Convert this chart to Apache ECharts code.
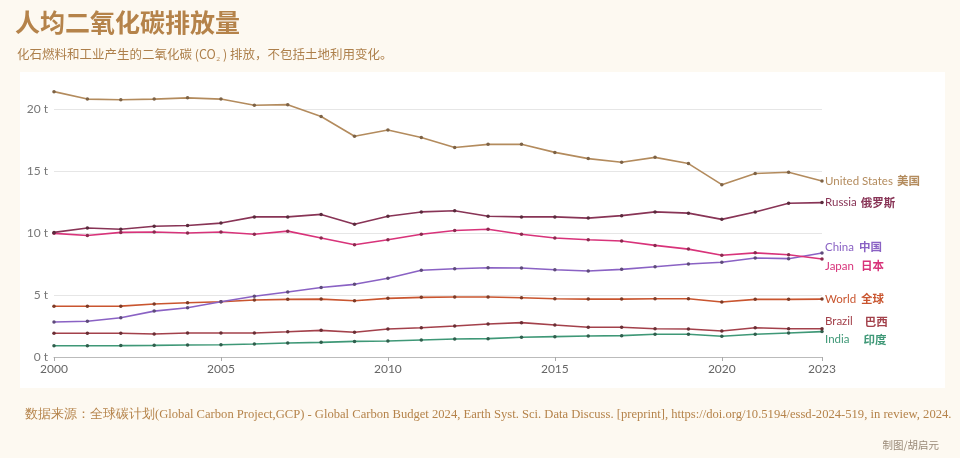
<!DOCTYPE html>
<html>
<head>
<meta charset="utf-8">
<script src="https://cdn.jsdelivr.net/npm/echarts@6/dist/echarts.min.js"></script>
<style>
html,body{margin:0;padding:0;background:#fdf9f1;}
#c{width:960px;height:458px;}
</style>
</head>
<body>
<div id="c"></div>
<script>
const years = ['2000','2001','2002','2003','2004','2005','2006','2007','2008','2009','2010','2011','2012','2013','2014','2015','2016','2017','2018','2019','2020','2021','2022','2023'];
const xTickLabels = ['2000','2005','2010','2015','2020','2023'];
const yTicks = [0,5,10,15,20];

const usData     = [21.4,20.8,20.75,20.8,20.9,20.8,20.3,20.35,19.4,17.8,18.3,17.7,16.9,17.15,17.15,16.5,16.0,15.7,16.1,15.6,13.9,14.8,14.9,14.2];
const russiaData = [10.05,10.4,10.3,10.55,10.6,10.8,11.3,11.3,11.5,10.7,11.35,11.7,11.8,11.35,11.3,11.3,11.2,11.4,11.7,11.6,11.1,11.7,12.4,12.45];
const japanData  = [9.97,9.8,10.05,10.08,10.0,10.08,9.9,10.15,9.6,9.05,9.45,9.9,10.2,10.3,9.9,9.6,9.45,9.35,9.0,8.7,8.2,8.4,8.25,7.9];
const chinaData  = [2.82,2.88,3.17,3.7,3.97,4.46,4.9,5.24,5.6,5.86,6.35,7.0,7.12,7.2,7.18,7.04,6.94,7.07,7.28,7.5,7.64,7.98,7.93,8.39];
const worldData  = [4.09,4.09,4.1,4.27,4.38,4.46,4.6,4.65,4.67,4.54,4.73,4.81,4.84,4.84,4.78,4.7,4.67,4.67,4.7,4.7,4.43,4.65,4.65,4.67];
const brazilData = [1.91,1.91,1.91,1.85,1.94,1.94,1.94,2.04,2.15,1.99,2.26,2.36,2.5,2.66,2.77,2.58,2.4,2.4,2.28,2.26,2.1,2.36,2.28,2.28];
const indiaData  = [0.91,0.91,0.92,0.94,0.97,0.99,1.05,1.13,1.18,1.26,1.29,1.37,1.45,1.48,1.59,1.64,1.69,1.72,1.83,1.83,1.67,1.83,1.94,2.05];

const seriesNamesEn = ['United States','Russia','Japan','China','World','Brazil','India'];
const seriesNamesCn = ['美国','俄罗斯','日本','中国','全球','巴西','印度'];
const seriesData = [usData, russiaData, japanData, chinaData, worldData, brazilData, indiaData];
const seriesColors = ['#b38b5d','#883456','#d8337a','#8a62c4','#c9552f','#a3414b','#3f9877'];
const markerColors = ['#7d6245','#5a2a3c','#8a2a4e','#5e4a7a','#7d3a26','#6a2e34','#2f5e4c'];
const labelOffsets = [[0,0],[0,0],[0,7],[0,-6],[0,0],[0,-7],[0,8]];
const cnGaps = [4,4,7,5,5,12,14];

const chart = echarts.init(document.getElementById('c'), null, {renderer:'canvas'});

const series = seriesData.map((d,i)=>({
  name: seriesNamesEn[i],
  type: 'line',
  data: d,
  clip: false,
  symbol: 'circle',
  symbolSize: 3.5,
  showSymbol: true,
  lineStyle: {color: seriesColors[i], width: 1.6},
  itemStyle: {color: markerColors[i]},
  z: 10 - i,
  endLabel: {
    show: true,
    distance: 3,
    offset: labelOffsets[i],
    formatter: () => '{en|' + seriesNamesEn[i] + '}{cn|' + seriesNamesCn[i] + '}',
    rich: {
      en: {color: seriesColors[i], fontFamily: 'Lato', fontSize: 11.5},
      cn: {color: seriesColors[i], fontFamily: 'Noto Sans CJK SC', fontWeight: 'bold', fontSize: 11.5, padding: [0,0,0,cnGaps[i]]}
    }
  },
  emphasis: {disabled: true}
}));

chart.setOption({
  backgroundColor: '#fdf9f1',
  animation: false,
  graphic: [{
    type: 'rect', z: -10, silent: true,
    shape: {x: 20, y: 72, width: 925, height: 316},
    style: {fill: '#ffffff'}
  }],
  title: [{
    text: '人均二氧化碳排放量',
    left: 10, top: 5,
    textStyle: {fontFamily: 'Noto Sans CJK SC', fontWeight: 'bold', fontSize: 25, color: '#b5834a'}
  },{
    text: '化石燃料和工业产生的二氧化碳 (CO₂ ) 排放，不包括土地利用变化。',
    left: 12, top: 43,
    textStyle: {fontFamily: 'Noto Sans CJK SC', fontWeight: 'normal', fontSize: 12.5, color: '#ad7f4a'}
  },{
    text: '数据来源：全球碳计划(Global Carbon Project,GCP) - Global Carbon Budget 2024, Earth Syst. Sci. Data Discuss. [preprint], https://doi.org/10.5194/essd-2024-519, in review, 2024.',
    left: 20, top: 403,
    textStyle: {fontFamily: 'Liberation Serif', fontWeight: 'normal', fontSize: 12.6, color: '#b5834a'}
  },{
    text: '制图/胡启元',
    right: 16, top: 435,
    textStyle: {fontFamily: 'Noto Sans CJK SC', fontWeight: 'normal', fontSize: 10.5, color: '#9a8a78'}
  }],
  grid: {left: 54, right: 138, top: 109, bottom: 101, containLabel: false},
  xAxis: {
    type: 'category',
    data: years,
    boundaryGap: false,
    axisLine: {lineStyle: {color: '#bbbbbb'}},
    axisTick: {
      show: true, length: 4, lineStyle: {color: '#aaaaaa'},
      interval: (idx, val) => xTickLabels.includes(val)
    },
    axisLabel: {
      interval: (idx, val) => xTickLabels.includes(val),
      color: '#666', fontFamily: 'Lato', fontSize: 12, margin: 6
    },
    splitLine: {show: false}
  },
  yAxis: {
    type: 'value',
    min: yTicks[0], max: yTicks[yTicks.length-1], interval: 5,
    axisLine: {show: false},
    axisTick: {show: false},
    axisLabel: {formatter: v => v + ' t', color: '#777', fontFamily: 'Lato', fontSize: 12, margin: 6},
    splitLine: {lineStyle: {color: '#e6e6e6', width: 1}}
  },
  series: series
});
</script>
</body>
</html>
